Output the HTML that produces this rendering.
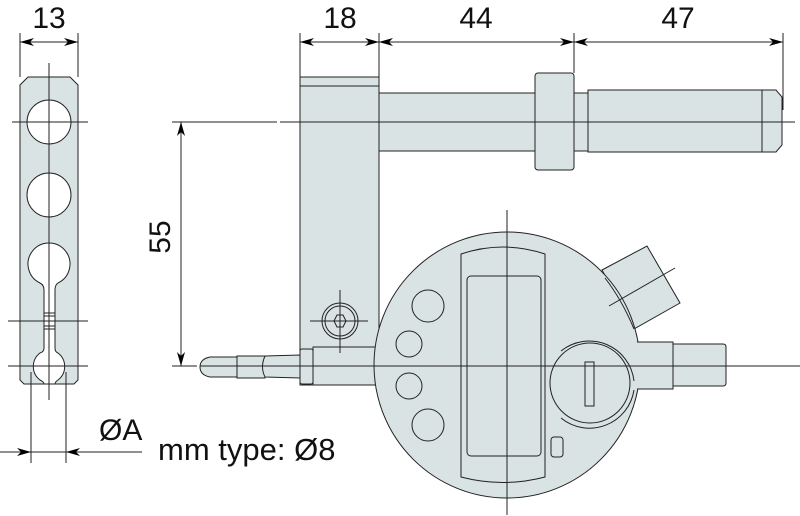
<!DOCTYPE html>
<html><head><style>body{margin:0;background:#fff}svg{display:block}</style></head><body>
<svg width="800" height="516" viewBox="0 0 800 516" xmlns="http://www.w3.org/2000/svg" font-family="Liberation Sans, sans-serif">
<defs>
<marker id="a" markerWidth="14" markerHeight="8" refX="14" refY="4" orient="auto" markerUnits="userSpaceOnUse"><path d="M0,0 L14,4 L0,8 L4,4z" fill="#000"/></marker>
</defs>
<g stroke="#222" stroke-width="1" fill="#d9e3e3">
<!-- left bar -->
<path d="M28,77 L70,77 L78,85 L78,380 L74,384 L24,384 L20,380 L20,85 Z"/>
<circle cx="49" cy="122" r="22" fill="#fff"/>
<circle cx="49" cy="195" r="22" fill="#fff"/>
<path d="M44,290 Q44,285 40,283 A21,21 0 1 1 58,283 Q55,285 55,290 L55,348 Q55,352 58,353 A17,17 0 0 1 58,380 Q55,382 55,384 L44,384 Q44,382 40,380 A17,17 0 0 1 40,353 Q44,352 44,348 Z" fill="#fff"/>
<line x1="44" y1="313" x2="55" y2="313"/><line x1="44" y1="316" x2="55" y2="316"/>
<line x1="44" y1="326" x2="55" y2="326"/><line x1="44" y1="329" x2="55" y2="329"/>
<!-- holder block -->
<rect x="300" y="77" width="79" height="308"/>
<line x1="300" y1="86" x2="379" y2="86"/>
<!-- upper shaft -->
<rect x="379" y="93" width="158" height="58"/>
<rect x="535" y="73" width="39" height="97" rx="3"/>
<rect x="574" y="93" width="14" height="58"/>
<rect x="588" y="90" width="174" height="62"/>
<path d="M762,90 L776,90 L782,97 L782,145 L776,152 L762,152 Z"/>
<!-- lower spindle -->
<path d="M210,357 L237,357 L237,377 L210,377 Q200,375 200,367 Q200,359 210,357Z"/>
<rect x="237" y="356" width="28" height="22"/>
<path d="M265,356 L300,355 L300,378 L265,377 Q260,367 265,356Z"/>
<rect x="300" y="349" width="13" height="35" rx="2"/>
<rect x="313" y="347" width="67" height="38"/>
<!-- screw -->
<circle cx="340" cy="321" r="18"/>
<circle cx="340" cy="321" r="15"/>
<path d="M334,321 L337,315 L343,315 L346,321 L343,327 L337,327Z"/>
<!-- upper angled part -->
<path d="M602,270 L647,246 L680,303 L634,329 Z"/>
<!-- dial -->
<circle cx="507" cy="365" r="133"/>
<path d="M605,278 Q622,300 634,329" fill="none"/>
<path d="M637,342 L673,342 L673,389 L637,389" />
<path d="M673,344 L723,344 Q726,344 726,347 L726,383 Q726,386 723,386 L673,386Z"/>
<path d="M461,254 Q503,240 545,254 L545,477 Q503,488 461,477 Z"/>
<rect x="467" y="276" width="74" height="180" rx="4"/>
<circle cx="428" cy="306" r="16"/><circle cx="409" cy="344" r="13"/>
<circle cx="409" cy="386" r="13"/><circle cx="428" cy="425" r="16"/>
<path d="M561,351 A45,45 0 0 1 634,381 M561,418 A45,45 0 0 0 634,390" fill="none"/>
<circle cx="590" cy="383" r="40"/>
<rect x="585" y="362" width="9" height="44"/>
<rect x="551" y="437" width="12" height="20" rx="3"/>
</g>
<!-- centerlines & dims -->
<g stroke="#222" stroke-width="1" fill="none">
<line x1="49" y1="63" x2="49" y2="400"/>
<line x1="12" y1="122" x2="88" y2="122"/>
<line x1="8" y1="321" x2="88" y2="321"/>
<line x1="8" y1="366" x2="88" y2="366"/>
<line x1="31" y1="372" x2="31" y2="463"/><line x1="66" y1="372" x2="66" y2="463"/>
<line x1="0" y1="452" x2="142" y2="452"/>
<line x1="0" y1="452" x2="31" y2="452" marker-end="url(#a)"/>
<line x1="90" y1="452" x2="66" y2="452" marker-end="url(#a)"/>
<line x1="20" y1="33" x2="20" y2="77"/><line x1="78" y1="33" x2="78" y2="77"/>
<line x1="49" y1="42" x2="20" y2="42" marker-end="url(#a)"/>
<line x1="49" y1="42" x2="78" y2="42" marker-end="url(#a)"/>
<line x1="300" y1="33" x2="300" y2="77"/><line x1="379" y1="33" x2="379" y2="77"/>
<line x1="574" y1="33" x2="574" y2="73"/><line x1="783" y1="33" x2="783" y2="110"/>
<line x1="340" y1="42" x2="300" y2="42" marker-end="url(#a)"/>
<line x1="340" y1="42" x2="379" y2="42" marker-end="url(#a)"/>
<line x1="476" y1="42" x2="379" y2="42" marker-end="url(#a)"/>
<line x1="476" y1="42" x2="574" y2="42" marker-end="url(#a)"/>
<line x1="678" y1="42" x2="574" y2="42" marker-end="url(#a)"/>
<line x1="678" y1="42" x2="783" y2="42" marker-end="url(#a)"/>
<line x1="172" y1="122" x2="277" y2="122"/><line x1="280" y1="122" x2="795" y2="122"/>
<line x1="172" y1="366" x2="197" y2="366"/><line x1="200" y1="366" x2="800" y2="366"/>
<line x1="181" y1="240" x2="181" y2="122" marker-end="url(#a)"/>
<line x1="181" y1="240" x2="181" y2="366" marker-end="url(#a)"/>
<line x1="507" y1="210" x2="507" y2="515"/>
<line x1="609" y1="306" x2="675" y2="268"/>
<line x1="340" y1="290" x2="340" y2="353"/><line x1="310" y1="321" x2="368" y2="321"/>
</g>
<g fill="#111" font-size="30">
<text x="49" y="28" text-anchor="middle">13</text>
<text x="340" y="28" text-anchor="middle">18</text>
<text x="476" y="28" text-anchor="middle">44</text>
<text x="678" y="28" text-anchor="middle">47</text>
<text transform="translate(170,237) rotate(-90)" text-anchor="middle">55</text>
<text x="99" y="440">ØA</text>
<text x="158" y="460" font-size="31">mm type: Ø8</text>
</g>
</svg>
</body></html>
